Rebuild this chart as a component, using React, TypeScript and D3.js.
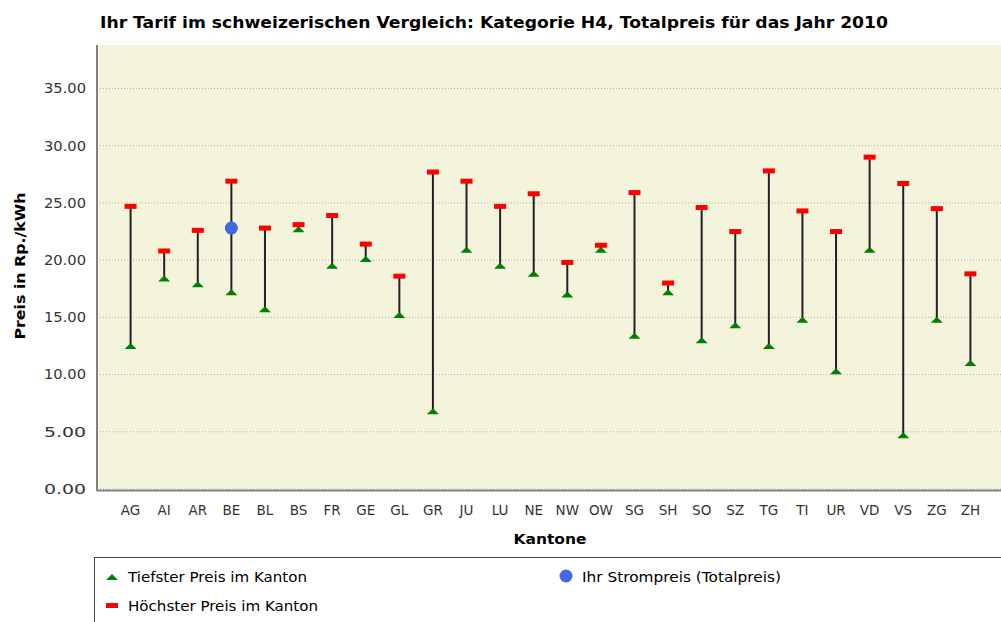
// @ts-nocheck
import React from 'react';
import * as d3 from 'd3';

const kantone = ['AG','AI','AR','BE','BL','BS','FR','GE','GL','GR','JU','LU','NE','NW','OW','SG','SH','SO','SZ','TG','TI','UR','VD','VS','ZG','ZH'];
const tiefster = [12.5,18.4,17.9,17.2,15.7,22.7,19.5,20.1,15.2,6.8,20.9,19.5,18.8,17.0,20.9,13.4,17.2,13.0,14.3,12.5,14.8,10.3,20.9,4.7,14.8,11.0];
const hoechster = [24.7,20.8,22.6,26.9,22.8,23.1,23.9,21.4,18.6,27.7,26.9,24.7,25.8,19.8,21.3,25.9,18.0,24.6,22.5,27.8,24.3,22.5,29.0,26.7,24.5,18.8];
const ihrPreis = [{ kanton: 'BE', value: 22.8 }];
const yTicks = [0, 5, 10, 15, 20, 25, 30, 35];

const W = 1001;
const H = 622;
const left = 97;
const top = 45;
const bottom = 489;
const right = 1004;
const font = 'Tahoma, "DejaVu Sans", Verdana, sans-serif';

// flat triangle like the original marker
const tri = 'M-6,3L0,-3L6,3Z';

const App = () => {
  const x = d3.scalePoint().domain(kantone).range([left, right]).padding(1);
  const y = d3.scaleLinear().domain([0, 38.8]).range([bottom, top]);

  return (
    <svg width={W} height={H} style={{ position: 'absolute', left: 0, top: 0, background: '#fff' }}>
      <text x={100} y={28} fontFamily={font} fontWeight="bold" fontSize={15} fill="#000"
        textLength={788} lengthAdjust="spacingAndGlyphs">
        Ihr  Tarif im schweizerischen Vergleich: Kategorie H4, Totalpreis für das Jahr 2010
      </text>

      <rect x={left} y={top} width={right - left} height={bottom - top} fill="#f4f4dc" />
      {yTicks.map(t => (
        <g key={t}>
          <line x1={left} x2={right} y1={y(t)} y2={y(t)} stroke="#b0b0b0" strokeWidth={1} strokeDasharray="1,2" />
          <text x={86} y={y(t)} dy="0.36em" textAnchor="end" fontFamily={font} fontSize={13.5} fill="#333"
            textLength={42} lengthAdjust="spacingAndGlyphs">
            {t.toFixed(2)}
          </text>
        </g>
      ))}
      <line x1={left} x2={left} y1={top} y2={bottom + 2} stroke="#808080" strokeWidth={2} />
      <line x1={left} x2={right} y1={bottom + 1.5} y2={bottom + 1.5} stroke="#808080" strokeWidth={2} />

      <text transform={`translate(25,${266}) rotate(-90)`} textAnchor="middle"
        fontFamily={font} fontWeight="bold" fontSize={14} fill="#000"
        textLength={147} lengthAdjust="spacingAndGlyphs">
        Preis in Rp./kWh
      </text>

      {kantone.map(k => (
        <text key={k} x={x(k)} y={515} textAnchor="middle" fontFamily={font} fontSize={13.5} fill="#333">{k}</text>
      ))}
      <text x={550} y={544} textAnchor="middle" fontFamily={font} fontWeight="bold" fontSize={14} fill="#000"
        textLength={73} lengthAdjust="spacingAndGlyphs">Kantone</text>

      {kantone.map((k, i) => (
        <line key={'l' + k} x1={x(k)} x2={x(k)} y1={y(hoechster[i])} y2={y(tiefster[i])} stroke="#222" strokeWidth={2} />
      ))}
      {kantone.map((k, i) => (
        <path key={'t' + k} d={tri} transform={`translate(${x(k)},${y(tiefster[i])})`} fill="#008000" />
      ))}
      {kantone.map((k, i) => (
        <rect key={'h' + k} x={x(k) - 6} y={y(hoechster[i]) - 2.5} width={12} height={5} fill="#ff0000" />
      ))}
      {ihrPreis.map(d => (
        <circle key={d.kanton} cx={x(d.kanton)} cy={y(d.value)} r={6.5} fill="#4169e1" />
      ))}

      <rect x={94.5} y={557.5} width={920} height={80} fill="#fff" stroke="#444" strokeWidth={1} />
      <path d={tri} transform="translate(112,577)" fill="#008000" />
      <text x={128} y={582} fontFamily={font} fontSize={14} fill="#000"
        textLength={179} lengthAdjust="spacingAndGlyphs">Tiefster Preis im Kanton</text>
      <rect x={106} y={603} width={12} height={5} fill="#ff0000" />
      <text x={128} y={611} fontFamily={font} fontSize={14} fill="#000"
        textLength={190} lengthAdjust="spacingAndGlyphs">Höchster Preis im Kanton</text>
      <circle cx={566} cy={576} r={6.5} fill="#4169e1" />
      <text x={582} y={582} fontFamily={font} fontSize={14} fill="#000"
        textLength={199} lengthAdjust="spacingAndGlyphs">Ihr Strompreis (Totalpreis)</text>
    </svg>
  );
};

export default App;
